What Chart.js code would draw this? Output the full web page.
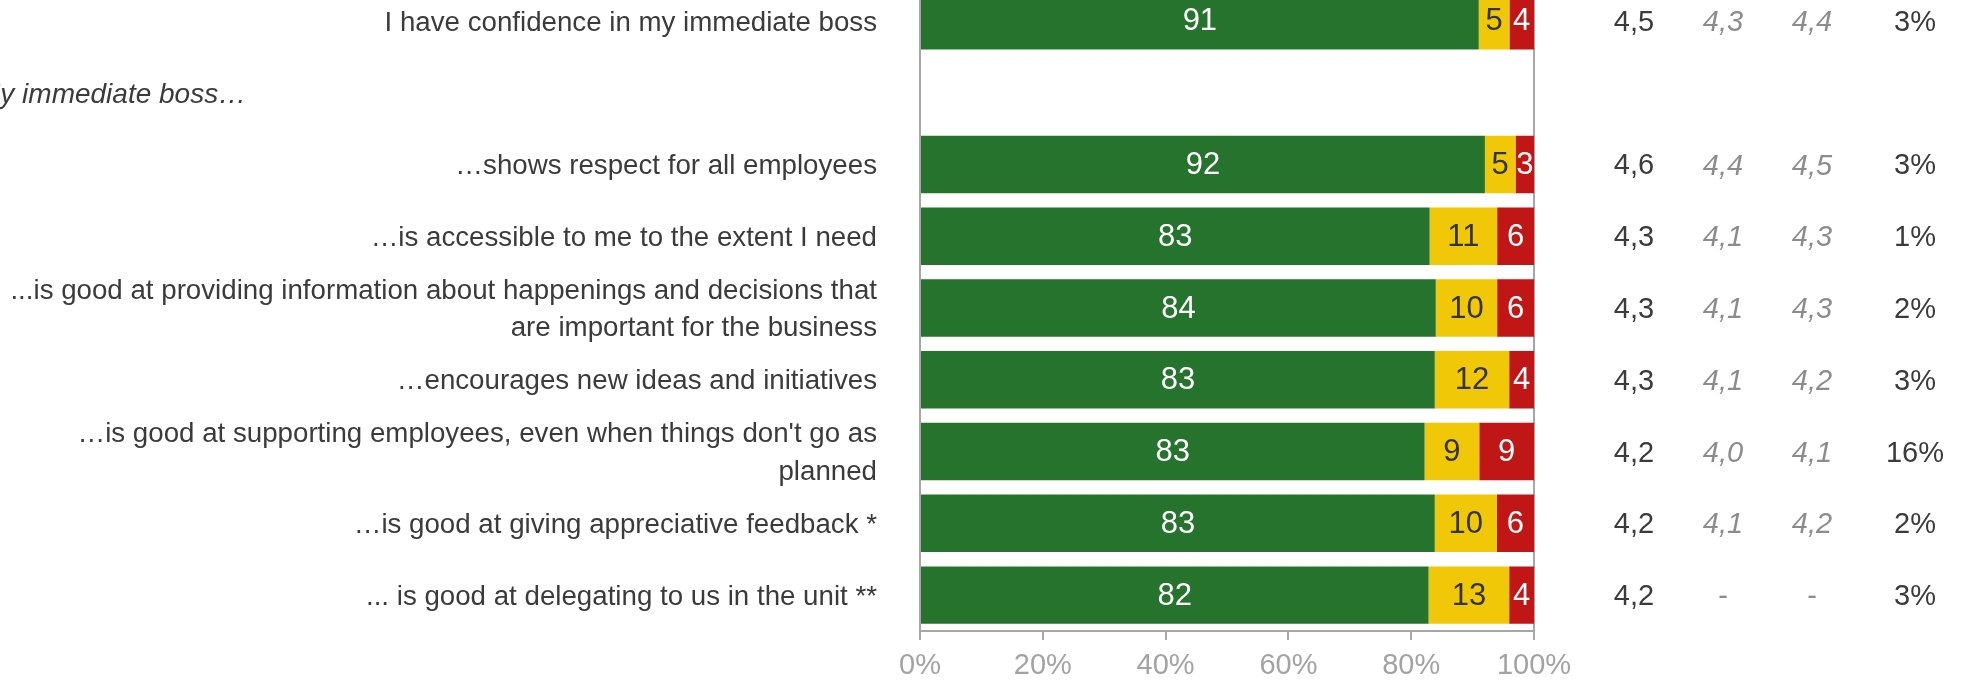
<!DOCTYPE html>
<html>
<head>
<meta charset="utf-8">
<script src="https://cdn.jsdelivr.net/npm/chart.js@4.4.1/dist/chart.umd.min.js"></script>
<style>
  html, body { margin: 0; padding: 0; background: #fff; overflow: hidden; }
  #wrap { position: relative; width: 1964px; height: 682px; overflow: hidden; }
  /* the frame starts a little below the top of the plot */
  #wrap canvas { position: absolute; left: 0; top: -40px; }
</style>
</head>
<body>
<div id="wrap"><canvas id="bossChart" width="1964" height="723"></canvas></div>
<script>
// Statements (multi-line ones split into lines)
const statements = [
  ['I have confidence in my immediate boss'],
  ['My immediate boss…'],
  ['…shows respect for all employees'],
  ['…is accessible to me to the extent I need'],
  ['...is good at providing information about happenings and decisions that', 'are important for the business'],
  ['…encourages new ideas and initiatives'],
  ['…is good at supporting employees, even when things don\'t go as', 'planned'],
  ['…is good at giving appreciative feedback *'],
  ['... is good at delegating to us in the unit **']
];
const headingRow = 1;

// Share of answers (%), agree / neutral / disagree
const agree    = [91, null, 92, 83, 84, 83, 83, 83, 82];
const neutral  = [5,  null, 5,  11, 10, 12, 9,  10, 13];
const disagree = [4,  null, 3,  6,  6,  4,  9,  6,  4];

// Mean scores and "don't know" share
const meanNow   = [4.5, null, 4.6, 4.3, 4.3, 4.3, 4.2, 4.2, 4.2];
const meanPrev1 = [4.3, null, 4.4, 4.1, 4.1, 4.1, 4.0, 4.1, null];
const meanPrev2 = [4.4, null, 4.5, 4.3, 4.3, 4.2, 4.1, 4.2, null];
const dontKnow  = [3,   null, 3,   1,   2,   3,   16,  2,   3];

const xTickLabels = ['0%', '20%', '40%', '60%', '80%', '100%'];

const FONT = "'Liberation Sans', Arial, sans-serif";
const TEXT = '#3b3b3b';
const AXIS = '#a6a6a6';

// each bar is drawn as a 100% stack of its row
const rowTotal = agree.map((v, i) => v == null ? null : v + neutral[i] + disagree[i]);
const share = arr => arr.map((v, i) => v == null ? null : v / rowTotal[i] * 100);
const fmt = v => v == null ? '-' : v.toFixed(1).replace('.', ',');

const panelText = {
  id: 'panelText',
  afterDatasetsDraw(chart) {
    const ctx = chart.ctx;
    const yScale = chart.scales.y;
    const area = chart.chartArea;
    ctx.save();
    ctx.textBaseline = 'middle';
    ctx.font = '31px ' + FONT;
    ctx.textAlign = 'center';

    // numbers inside the segments
    chart.data.datasets.forEach((ds, di) => {
      chart.getDatasetMeta(di).data.forEach((bar, i) => {
        const v = ds.counts[i];
        if (v == null) return;
        ctx.fillStyle = ds.labelColor;
        ctx.fillText(String(v), (bar.x + bar.base) / 2, bar.y + 1);
      });
    });

    // statements on the left
    statements.forEach((lines, i) => {
      const cy = yScale.getPixelForValue(i);
      ctx.fillStyle = TEXT;
      if (i === headingRow) {
        ctx.font = 'italic 28px ' + FONT;
        ctx.textAlign = 'left';
        ctx.fillText(lines[0], -23, cy + 3);
        return;
      }
      ctx.font = '27.7px ' + FONT;
      ctx.textAlign = 'right';
      const lh = 37.6;
      const top = cy + 2 - (lines.length - 1) * lh / 2;
      lines.forEach((t, k) => ctx.fillText(t, area.left - 43, top + k * lh));
    });

    // score columns on the right
    const cols = [
      { data: meanNow,   dx: 100, color: TEXT,      italic: false, f: fmt },
      { data: meanPrev1, dx: 189, color: '#8c8c8c', italic: true,  f: fmt },
      { data: meanPrev2, dx: 278, color: '#8c8c8c', italic: true,  f: fmt },
      { data: dontKnow,  dx: 381, color: TEXT,      italic: false, f: v => v + '%' }
    ];
    ctx.textAlign = 'center';
    cols.forEach(c => {
      c.data.forEach((v, i) => {
        if (i === headingRow) return;
        const cy = yScale.getPixelForValue(i) + 2;
        ctx.fillStyle = c.color;
        ctx.font = (c.italic && v != null ? 'italic ' : '') + '29px ' + FONT;
        ctx.fillText(c.f(v), area.right + c.dx, cy);
      });
    });
    ctx.restore();
  }
};

new Chart(document.getElementById('bossChart'), {
  type: 'bar',
  data: {
    labels: statements,
    datasets: [
      { label: 'Agree', data: share(agree), counts: agree, backgroundColor: '#26732e', labelColor: '#ffffff' },
      { label: 'Neutral', data: share(neutral), counts: neutral, backgroundColor: '#f0c808', labelColor: '#333333' },
      { label: 'Disagree', data: share(disagree), counts: disagree, backgroundColor: '#c01616', labelColor: '#ffffff' }
    ]
  },
  options: {
    indexAxis: 'y',
    responsive: false,
    animation: false,
    datasets: { bar: { barPercentage: 0.8, categoryPercentage: 1, borderWidth: 0 } },
    layout: { padding: { left: 920, right: 430, top: 25, bottom: 0 } },
    plugins: { legend: { display: false }, tooltip: { enabled: false } },
    scales: {
      x: {
        stacked: true,
        min: 0,
        max: 100,
        // fixed axis band so the plot bottom lands at a known height
        afterFit: scale => { scale.height = 52; },
        ticks: {
          stepSize: 20,
          padding: 9,
          color: '#a3a3a3',
          font: { size: 29, family: FONT },
          callback: (v, i) => xTickLabels[i]
        },
        grid: {
          color: c => (c.tick && (c.tick.value === 0 || c.tick.value === 100)) ? AXIS : 'transparent',
          tickColor: AXIS,
          tickLength: 9,
          lineWidth: 2
        },
        border: { color: AXIS, width: 2 }
      },
      y: { stacked: true, display: false }
    }
  },
  plugins: [panelText]
});
</script>
</body>
</html>
